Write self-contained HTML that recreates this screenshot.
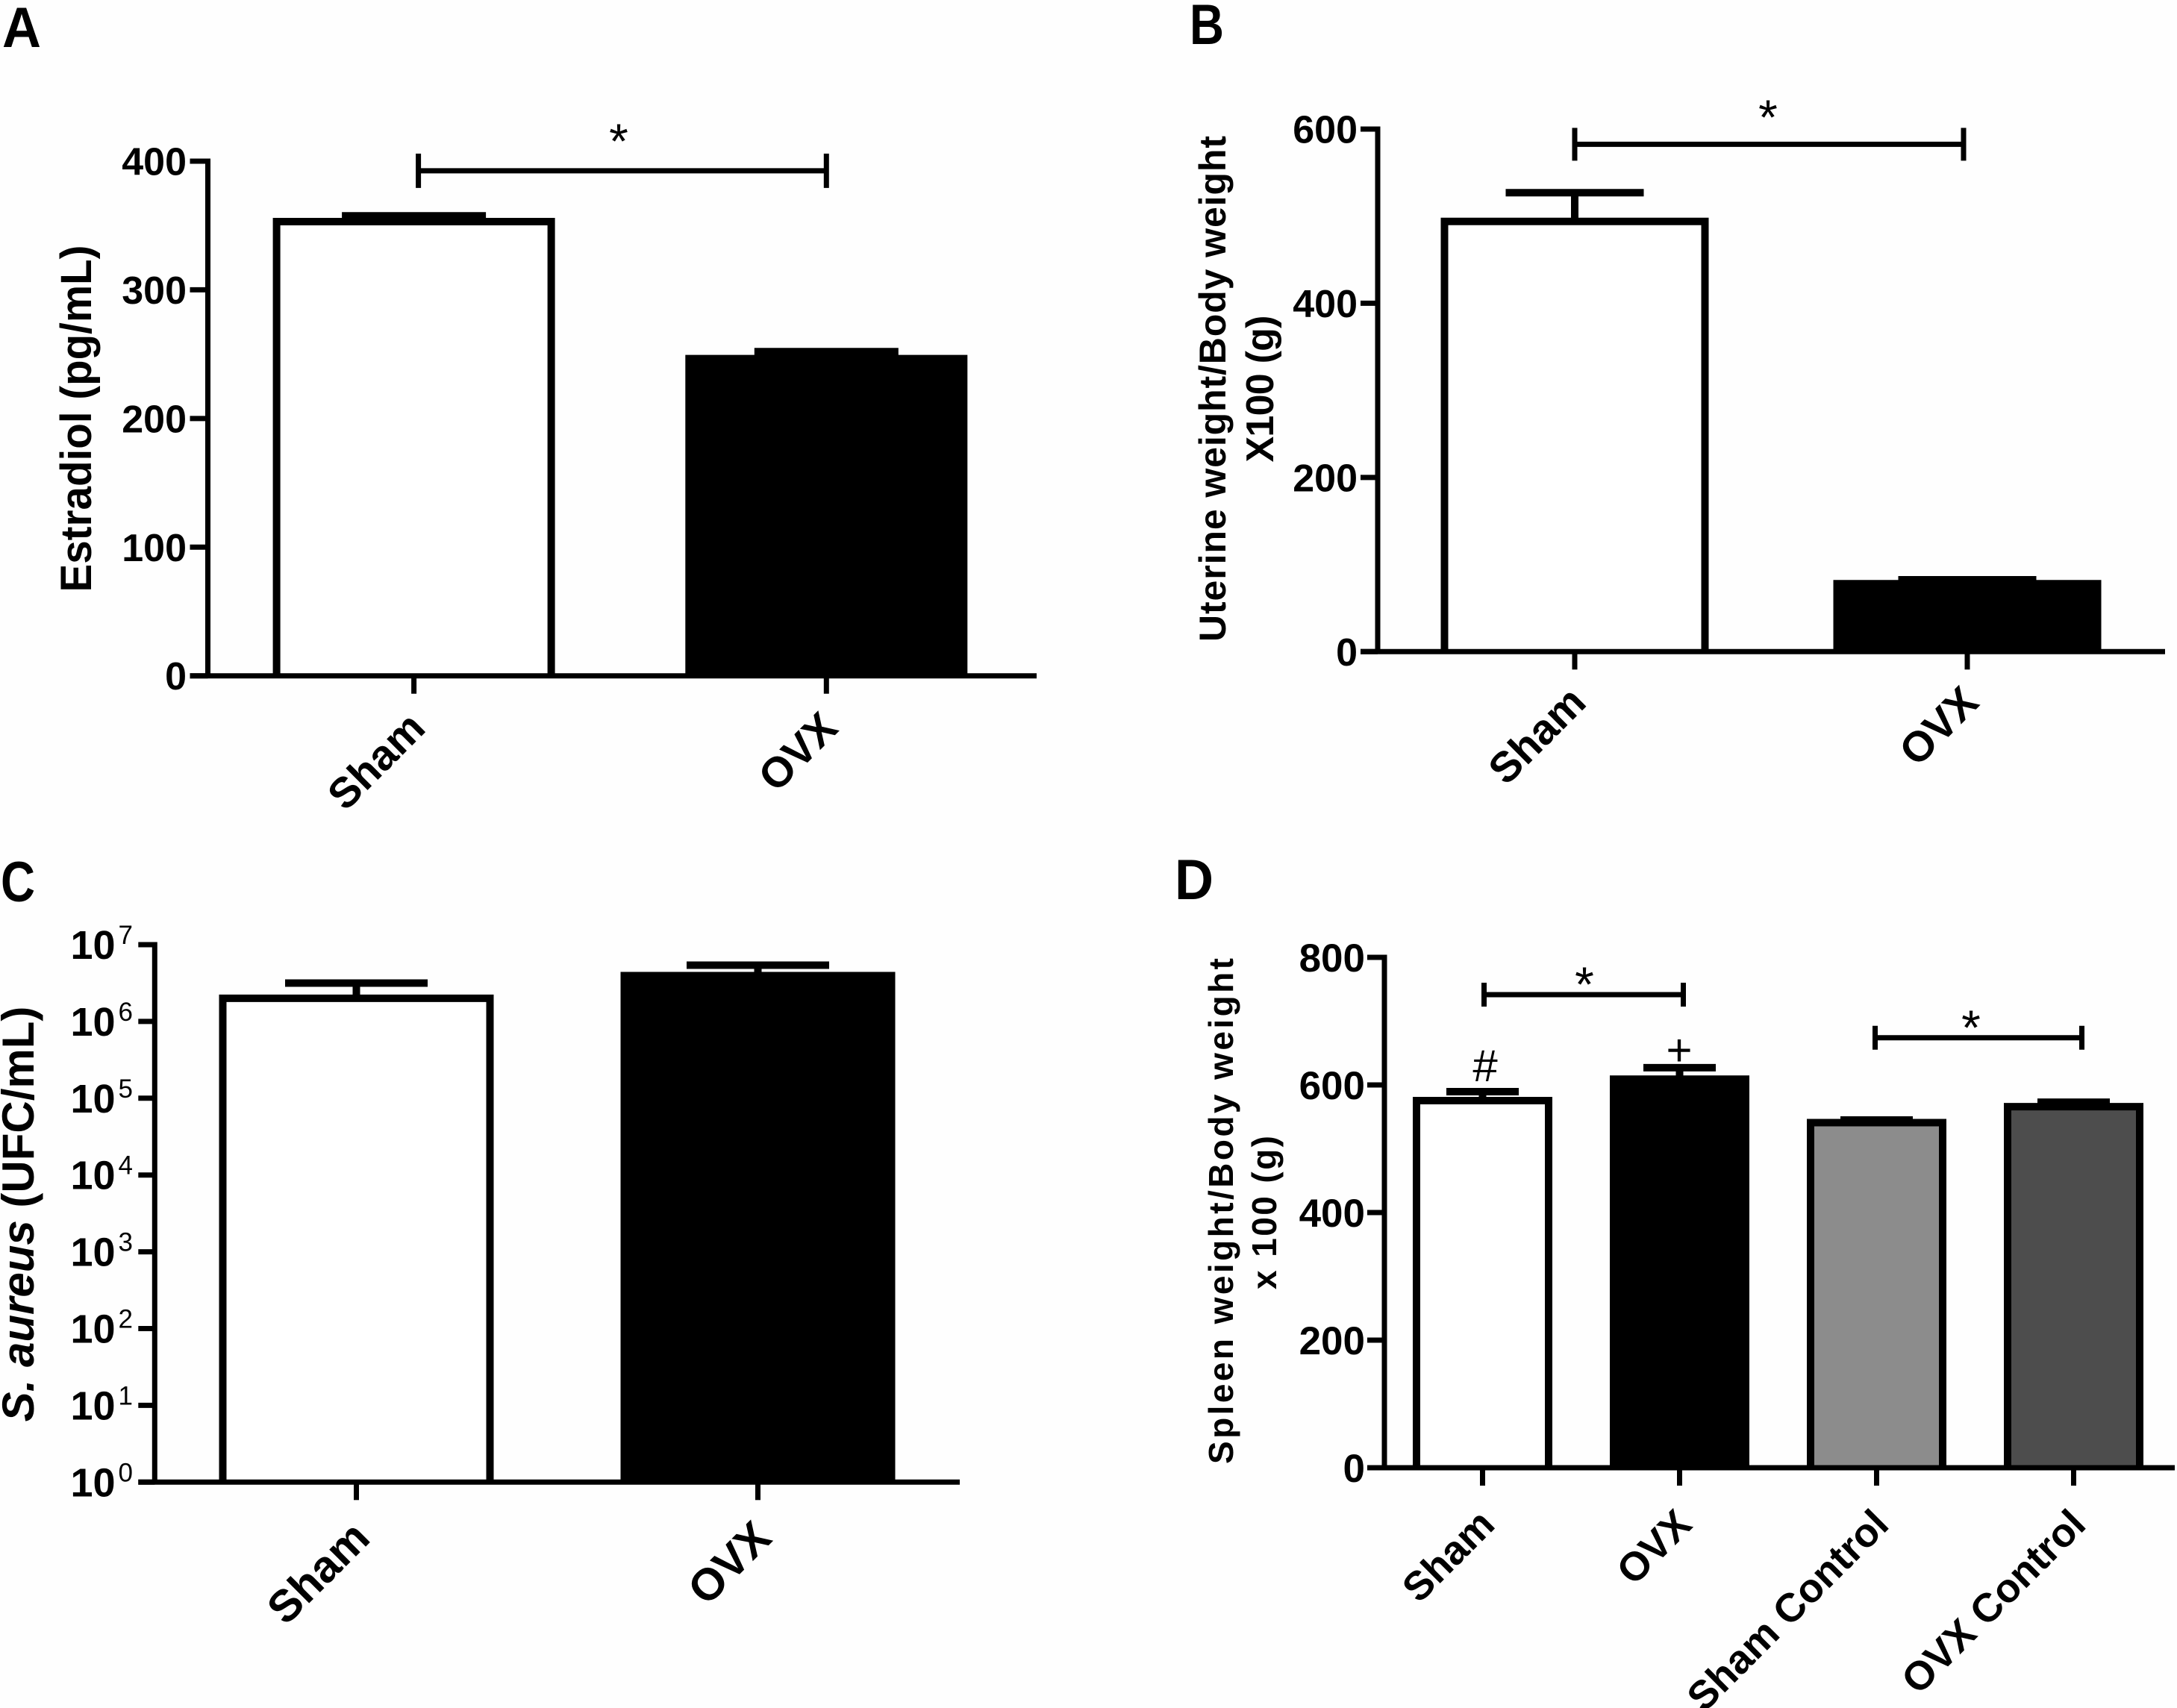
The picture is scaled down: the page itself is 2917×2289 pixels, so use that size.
<!DOCTYPE html>
<html lang="en">
<head>
<meta charset="utf-8">
<title>Estradiol, uterine, S. aureus and spleen bar charts</title>
<style>
html,body{margin:0;padding:0;background:#fff;}
svg{display:block;}
text{font-family:"Liberation Sans",sans-serif;fill:#000;}
.bold{font-weight:700;}
</style>
</head>
<body>
<svg id="figure" width="2917" height="2289" viewBox="0 0 2917 2289" xmlns="http://www.w3.org/2000/svg">
  <rect x="0" y="0" width="2917" height="2289" fill="#fefefe"/>

  <text class="bold" x="3" y="63" font-size="76" textLength="52" lengthAdjust="spacingAndGlyphs">A</text>
  <text class="bold" x="1594" y="59" font-size="76" textLength="46" lengthAdjust="spacingAndGlyphs">B</text>
  <text class="bold" x="1" y="1208" font-size="76" textLength="46" lengthAdjust="spacingAndGlyphs">C</text>
  <text class="bold" x="1574" y="1205" font-size="76" textLength="52" lengthAdjust="spacingAndGlyphs">D</text>

  <text class="bold" font-size="58" text-anchor="middle" textLength="465" lengthAdjust="spacingAndGlyphs" transform="translate(122 561) rotate(-90)">Estradiol (pg/mL)</text>
  <text class="bold" font-size="50" text-anchor="middle" textLength="678" transform="translate(1642 521) rotate(-90)">Uterine weight/Body weight</text>
  <text class="bold" font-size="52" text-anchor="middle" textLength="197" transform="translate(1706 521) rotate(-90)">X100 (g)</text>
  <text class="bold" font-size="60" text-anchor="middle" transform="translate(45 1627) rotate(-90)"><tspan font-style="italic">S. aureus</tspan> (UFC/mL)</text>
  <text class="bold" font-size="46" text-anchor="middle" textLength="678" transform="translate(1652 1623) rotate(-90)">Spleen weight/Body weight</text>
  <text class="bold" font-size="46" text-anchor="middle" textLength="206" transform="translate(1710 1625) rotate(-90)">x 100 (g)</text>

  <g id="panel-a"></g>
  <g id="panel-b"></g>
  <g id="panel-c"></g>
  <g id="panel-d"></g>
</svg>

<script>
// ---- Panel A data ----
const panelACategories = ['Sham', 'OVX'];
const panelAValues = [353, 246.5];
const panelAErrors = [4.5, 5.5];
const panelATicks = [0, 100, 200, 300, 400];

// ---- Panel B data ----
const panelBCategories = ['Sham', 'OVX'];
const panelBValues = [494, 78];
const panelBErrors = [33, 4.5];
const panelBTicks = [0, 200, 400, 600];

// ---- Panel C data (log axis) ----
const panelCCategories = ['Sham', 'OVX'];
const panelCValues = [2000000, 3950000];
const panelCErrors = [1160000, 1450000];
const panelCTicks = [1, 10, 100, 1000, 10000, 100000, 1000000, 10000000];

// ---- Panel D data ----
const panelDCategories = ['Sham', 'OVX', 'Sham Control', 'OVX Control'];
const panelDValues = [575.5, 609, 541, 566];
const panelDErrors = [14, 18, 4, 7];
const panelDTicks = [0, 200, 400, 600, 800];

const SVG_NS = document.getElementById('figure').namespaceURI;

function add(parent, tag, attrs, text) {
  const el = document.createElementNS(SVG_NS, tag);
  Object.keys(attrs).forEach(function (k) { el.setAttribute(k, attrs[k]); });
  if (text !== undefined) { el.textContent = text; }
  parent.appendChild(el);
  return el;
}

function linearAxis(top, bottom, max) {
  return function (v) { return bottom - (v / max) * (bottom - top); };
}
function logAxis(top, bottom, maxExponent) {
  return function (v) { return bottom - (Math.log10(v) / maxExponent) * (bottom - top); };
}
function bandAxis(first, step) {
  return function (i) { return first + i * step; };
}

function drawPanel(cfg) {
  const g = document.getElementById(cfg.id);
  const x = cfg.x;
  const y = cfg.y;
  const y0 = y(cfg.base);

  // bars and error bars
  cfg.categories.forEach(function (cat, i) {
    const cx = x(i);
    const top = y(cfg.values[i]);
    const capY = y(cfg.values[i] + cfg.errors[i]);

    const stem = add(g, 'line', { x1: cx, x2: cx, y1: top, y2: capY, stroke: '#000', 'stroke-width': 10 });
    
    

    const cap = add(g, 'line', { x1: cx - cfg.capWidth / 2, x2: cx + cfg.capWidth / 2, y1: capY, y2: capY, stroke: '#000', 'stroke-width': 10 });
    
    

    // open three-sided outline: the x-axis line forms the bar's bottom edge
    const left = cx - cfg.barWidth / 2;
    const right = cx + cfg.barWidth / 2;
    const bar = add(g, 'path', { d: 'M' + left + ' ' + y0 + ' V' + top + ' H' + right + ' V' + y0, fill: cfg.fills[i], stroke: '#000', 'stroke-width': 10, 'stroke-linejoin': 'miter' });
    
    
  });

  // y axis
  const yTop = y(cfg.ticks[cfg.ticks.length - 1]);
  const yAxis = add(g, 'line', { x1: cfg.axisX, x2: cfg.axisX, y1: yTop - 3.5, y2: y0 + 3, stroke: '#000', 'stroke-width': 7 });
  
  

  cfg.ticks.forEach(function (t) {
    const ty = y(t);
    const tick = add(g, 'line', { x1: cfg.axisX - cfg.tickLength, x2: cfg.axisX, y1: ty, y2: ty, stroke: '#000', 'stroke-width': 7 });
    
    

    const label = add(g, 'text', { x: cfg.labelRight, y: ty + cfg.labelDy, 'font-size': cfg.labelSize, 'font-weight': 700, 'text-anchor': 'end' });
    
    
    if (cfg.logLabels) {
      label.appendChild(document.createTextNode('10'));
      const sup = add(label, 'tspan', { dy: -20, 'font-size': 35, 'font-weight': 400, dx: 4 }, String(Math.round(Math.log10(t))));
      
      
    } else {
      label.textContent = String(t);
    }
  });

  // x axis
  const xAxis = add(g, 'line', { x1: cfg.axisX - cfg.tickLength, x2: cfg.axisRight, y1: y0, y2: y0, stroke: '#000', 'stroke-width': 7 });
  
  

  cfg.categories.forEach(function (cat, i) {
    const cx = x(i);
    const tick = add(g, 'line', { x1: cx, x2: cx, y1: y0, y2: y0 + 24, stroke: '#000', 'stroke-width': 7 });
    
    

    const px = cx + cfg.catDx;
    const py = y0 + cfg.catDy;
    const label = add(g, 'text', { x: px, y: py, 'font-size': cfg.catSize, 'font-weight': 700, 'text-anchor': 'end', transform: 'rotate(-45 ' + px + ' ' + py + ')' }, cat);
    
    
  });
}

function drawBracket(panelId, xLeft, xRight, yLine, capHalf, starX, starY) {
  const g = document.getElementById(panelId);

  const line = add(g, 'line', { x1: xLeft, x2: xRight, y1: yLine, y2: yLine, stroke: '#000', 'stroke-width': 7 });
  
  

  const capL = add(g, 'line', { x1: xLeft, x2: xLeft, y1: yLine - capHalf, y2: yLine + capHalf, stroke: '#000', 'stroke-width': 7 });
  
  

  const capR = add(g, 'line', { x1: xRight, x2: xRight, y1: yLine - capHalf, y2: yLine + capHalf, stroke: '#000', 'stroke-width': 7 });
  
  

  const star = add(g, 'text', { x: starX, y: starY + 32, 'font-size': 66, 'text-anchor': 'middle' }, '*');
  
  
}

// Panel A
const xA = bandAxis(554.6, 552.7);
const yA = linearAxis(216, 905.7, 400);
drawPanel({ id: 'panel-a', categories: panelACategories, values: panelAValues, errors: panelAErrors, ticks: panelATicks,
  x: xA, y: yA, base: 0, axisX: 278.5, axisRight: 1389, tickLength: 24, labelRight: 250, labelDy: 18.5, labelSize: 52,
  barWidth: 368, capWidth: 193, fills: ['#fff', '#000'], catDx: 18, catDy: 73, catSize: 57 });
drawBracket('panel-a', xA(0) + 6, xA(1), yA(392.5), 23, 829, 180);

// Panel B
const xB = bandAxis(2110, 526);
const yB = linearAxis(173, 873.3, 600);
drawPanel({ id: 'panel-b', categories: panelBCategories, values: panelBValues, errors: panelBErrors, ticks: panelBTicks,
  x: xB, y: yB, base: 0, axisX: 1846, axisRight: 2901, tickLength: 23, labelRight: 1819, labelDy: 18.5, labelSize: 52,
  barWidth: 349, capWidth: 185, fills: ['#fff', '#000'], catDx: 18, catDy: 71, catSize: 57 });
drawBracket('panel-b', xB(0), xB(1) - 5, yB(582.5), 22, 2369, 148);

// Panel C
const xC = bandAxis(477.5, 538);
const yC = logAxis(1266, 1986.3, 7);
drawPanel({ id: 'panel-c', categories: panelCCategories, values: panelCValues, errors: panelCErrors, ticks: panelCTicks,
  x: xC, y: yC, base: 1, axisX: 207.3, axisRight: 1286, tickLength: 22, labelRight: 178, labelDy: 19, labelSize: 54, logLabels: true,
  barWidth: 358, capWidth: 191, fills: ['#fff', '#000'], catDx: 21, catDy: 78, catSize: 60 });

// Panel D
const xD = bandAxis(1986.5, 264);
const yD = linearAxis(1283, 1967, 800);
drawPanel({ id: 'panel-d', categories: panelDCategories, values: panelDValues, errors: panelDErrors, ticks: panelDTicks,
  x: xD, y: yD, base: 0, axisX: 1855, axisRight: 2914, tickLength: 23, labelRight: 1829, labelDy: 19, labelSize: 53,
  barWidth: 177, capWidth: 97, fills: ['#fff', '#000', '#8c8c8c', '#4d4d4d'], catDx: 19, catDy: 79, catSize: 54 });
drawBracket('panel-d', xD(0) + 2, xD(1) + 5, yD(741.5), 16, 2123, 1310);
drawBracket('panel-d', xD(2) - 2, xD(3) + 11, yD(674), 16, 2641, 1368);

const panelD = document.getElementById('panel-d');
const hashMark = add(panelD, 'text', { x: 1990, y: 1449, 'font-size': 60, 'text-anchor': 'middle' }, '#');


const plusMark = add(panelD, 'text', { x: 2250, y: 1428, 'font-size': 60, 'text-anchor': 'middle' }, '+');


</script>
</body>
</html>
